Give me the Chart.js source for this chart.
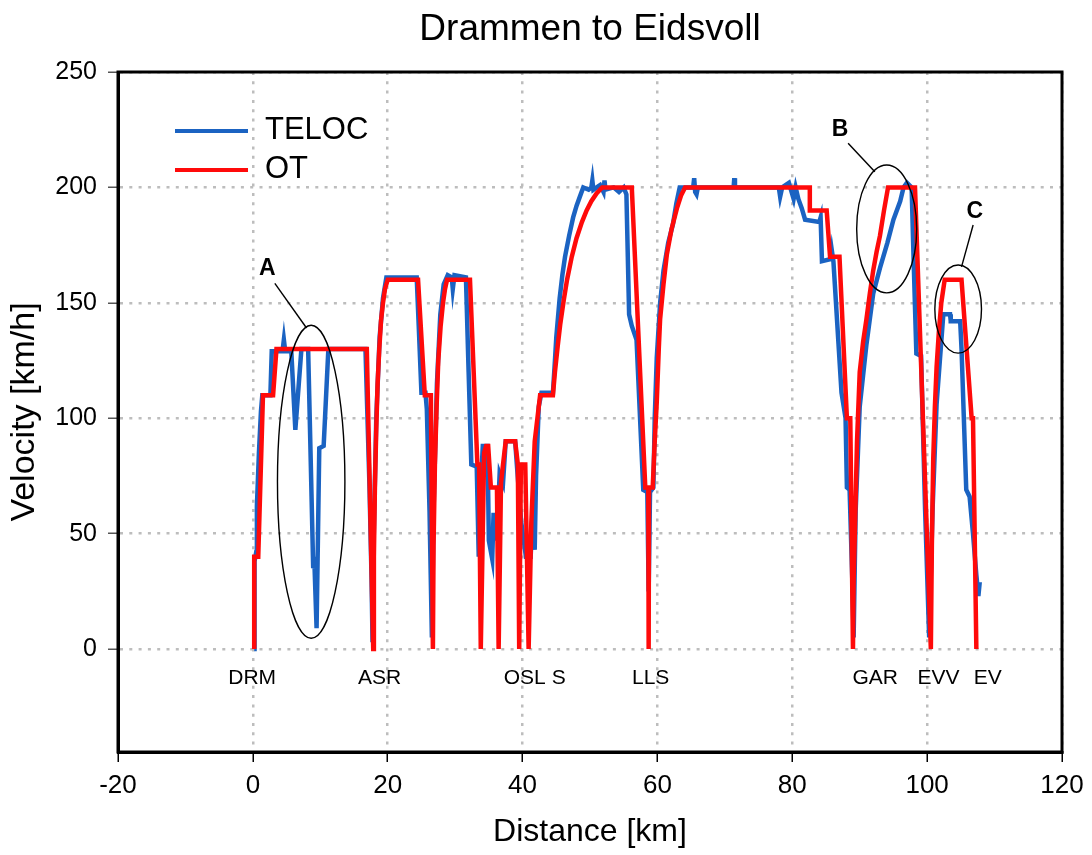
<!DOCTYPE html>
<html>
<head>
<meta charset="utf-8">
<script src="https://cdn.jsdelivr.net/npm/chart.js@4.4.1/dist/chart.umd.min.js"></script>
<style>
  html, body { margin: 0; padding: 0; background: #fff; }
</style>
</head>
<body>
<canvas id="speedChart" width="1092" height="855"></canvas>
<script>
// TELOC (measured) run: distance [km] and velocity [km/h]
const telocKm = [0.2, 0.25, 0.5, 0.6, 0.9, 1.2, 1.4, 2.6, 2.8, 4.4, 4.6, 4.8, 5.7, 6.3, 7.2, 8.2, 8.95, 9.1, 9.45, 9.85,
  10.5, 11.2, 16.7, 17.3, 17.6, 17.75, 17.9, 18.3, 18.8, 19.3, 19.8, 24.3, 24.6, 25.0, 25.6, 25.8, 26.2, 26.55, 26.8, 27.3,
  27.8, 28.3, 28.9, 29.5, 29.65, 29.9, 31.6, 32.0, 32.4, 33.2, 33.5, 33.8, 34.1, 34.8, 35.0, 35.5, 35.7, 36.0, 36.3, 36.6,
  37.1, 37.5, 38.9, 39.2, 39.8, 40.5, 41.2, 41.5, 41.8, 42.0, 42.4, 42.8, 44.5, 44.8, 45.0, 45.5, 45.9, 46.3, 46.9, 47.5,
  48.0, 48.5, 49.0, 49.8, 50.2, 50.35, 50.5, 51.5, 52.0, 52.15, 52.3, 53.5, 54.3, 55.0, 55.4, 55.8, 56.2, 56.9, 57.9, 58.5,
  58.7, 58.9, 59.4, 59.6, 59.9, 60.4, 60.9, 61.6, 62.3, 62.8, 63.3, 65.3, 65.45, 65.6, 65.8, 66.0, 71.3, 71.4, 71.5, 78.0,
  78.2, 78.5, 79.5, 80.2, 80.5, 80.9, 81.4, 81.9, 84.0, 84.2, 84.4, 85.8, 85.9, 86.1, 87.3, 87.9, 88.1, 88.5, 88.9, 89.1,
  89.4, 90.0, 91.0, 92.0, 93.0, 94.1, 95.0, 96.0, 96.5, 97.0, 97.7, 98.0, 98.4, 99.1, 99.7, 100.3, 100.8, 101.4, 102.4, 103.4,
  103.5, 104.9, 105.1, 105.8, 106.3, 106.8, 107.3, 107.6, 107.8];
const telocKmh = [0, 38, 42, 62, 85, 103, 110, 110, 129, 129, 134, 129, 129, 95, 130, 130, 35, 40, 9, 87,
  88, 130, 130, 70, 31, 3, 45, 100, 135, 152, 161, 161, 140, 111, 111, 104, 60, 5, 60, 115,
  145, 158, 162, 161, 156, 162, 161, 120, 80, 79, 40, 70, 88, 88, 47, 39, 59, 47, 55, 76,
  72, 90, 90, 78, 55, 40, 40, 60, 43, 75, 105, 111, 111, 125, 135, 152, 162, 170, 179, 187,
  192, 196, 200, 199, 200, 203, 199, 201, 198, 203, 199, 200, 198, 200, 197, 145, 140, 134, 69, 68,
  25, 68, 70, 100, 126, 150, 164, 176, 184, 193, 200, 200, 204, 198, 197, 200, 200, 204, 200, 200,
  196, 200, 202, 195, 200, 195, 191, 186, 185, 187, 168, 169, 172, 168, 111, 100, 70, 69, 30, 5,
  60, 105, 132, 154, 165, 176, 186, 194, 200, 202, 200, 168, 128, 127, 60, 5, 60, 106, 145, 145,
  142, 142, 130, 69, 66, 50, 32, 23, 29];

// OT (optimal timetable) profile
const otKm = [0.2, 0.2, 0.8, 1.5, 3.0, 3.5, 16.9, 17.85, 17.95, 18.1, 18.3, 18.5, 18.75, 19.0, 19.3, 19.6, 20.0, 24.5, 25.5, 26.4,
  26.7, 26.8, 27.0, 27.25, 27.5, 27.85, 28.2, 28.5, 28.8, 32.2, 33.3, 33.55, 33.8, 34.3, 34.6, 34.9, 35.3, 36.2, 36.45, 36.8,
  37.1, 37.5, 38.9, 39.3, 39.5, 39.75, 40.4, 40.9, 41.3, 41.8, 42.6, 44.5, 44.8, 45.2, 45.6, 46.1, 46.6, 47.3, 48.0, 48.8,
  49.5, 50.2, 51.0, 51.8, 56.2, 58.2, 58.65, 58.7, 58.75, 59.3, 59.6, 59.9, 60.2, 60.4, 60.9, 61.4, 62.1, 62.9, 63.5, 64.1,
  82.6, 82.6, 85.1, 85.6, 87.0, 88.1, 88.6, 89.0, 89.1, 89.3, 89.6, 90.0, 90.5, 91.0, 91.5, 92.0, 92.5, 93.0, 93.6, 94.2,
  98.2, 100.55, 100.7, 100.9, 101.15, 101.4, 101.75, 102.1, 102.6, 105.1, 106.6, 106.8, 107.3];
const otKmh = [0, 40, 40, 110, 110, 130, 130, 0, 40, 70, 95, 115, 130, 142, 150, 156, 160, 160, 110, 110,
  0, 45, 80, 105, 125, 140, 150, 156, 160, 160, 80, 80, 0, 85, 88, 88, 70, 70, 0, 72,
  80, 90, 90, 80, 0, 80, 80, 0, 55, 90, 110, 110, 120, 131, 141, 151, 160, 170, 178, 185,
  190, 194, 197.5, 200, 200, 70, 70, 0, 70, 70, 90, 107, 130, 143, 158, 171, 182, 191, 196.5, 200,
  200, 190, 190, 170, 170, 100, 100, 0, 30, 53, 90, 120, 133, 143, 154, 164, 172, 179, 190, 200,
  200, 0, 45, 82, 105, 122, 138, 150, 160, 160, 100, 100, 0];

// station names along the line, placed just under the zero line
const stationNames = ['DRM', 'ASR', 'OSL S', 'LLS', 'GAR', 'EVV', 'EV'];
const stationKm = [-0.1, 18.8, 41.8, 59.0, 92.3, 101.7, 109.0];
const stationLabelKmh = -12.5;

// circled deviations: label, label position, leader line, ellipse centre and radii (data units)
const marks = [
  { label: 'A', lx: 2.15, ly: 165, from: [3.26, 158.4], to: [7.96, 139.1], cx: 8.65, cy: 72.5, rx: 5.0, ry: 67.8 },
  { label: 'B', lx: 87.1, ly: 225, from: [88.28, 219.1], to: [92.24, 206.8], cx: 94.0, cy: 182, rx: 4.45, ry: 27.7 },
  { label: 'C', lx: 107.05, ly: 189.6, from: [106.82, 183.7], to: [105.1, 165.6], cx: 104.6, cy: 147.3, rx: 3.46, ry: 19.1 }
];

const FONT = "'Liberation Sans', Arial, sans-serif";
const BLUE = '#1b63c2';
const RED = '#ff0a0a';

function toPoints(xs, ys) {
  return xs.map((x, i) => ({ x: x, y: ys[i] }));
}

const overlayPlugin = {
  id: 'overlayPlugin',
  afterDatasetsDraw: (chart) => {
    const { ctx, chartArea: { left, top, right, bottom }, scales: { x, y } } = chart;
    ctx.save();

    // station names
    ctx.fillStyle = '#000';
    ctx.font = '21px ' + FONT;
    ctx.textAlign = 'center';
    ctx.textBaseline = 'middle';
    stationNames.forEach((name, i) => {
      ctx.fillText(name, x.getPixelForValue(stationKm[i]), y.getPixelForValue(stationLabelKmh));
    });

    // ellipses, leader lines, letters
    ctx.strokeStyle = '#000';
    ctx.lineWidth = 1.4;
    marks.forEach((m) => {
      const cx = x.getPixelForValue(m.cx);
      const cy = y.getPixelForValue(m.cy);
      const rx = Math.abs(x.getPixelForValue(m.cx + m.rx) - cx);
      const ry = Math.abs(y.getPixelForValue(m.cy + m.ry) - cy);
      ctx.beginPath();
      ctx.ellipse(cx, cy, rx, ry, 0, 0, Math.PI * 2);
      ctx.stroke();

      ctx.beginPath();
      ctx.moveTo(x.getPixelForValue(m.from[0]), y.getPixelForValue(m.from[1]));
      ctx.lineTo(x.getPixelForValue(m.to[0]), y.getPixelForValue(m.to[1]));
      ctx.stroke();

      ctx.font = 'bold 23px ' + FONT;
      ctx.fillText(m.label, x.getPixelForValue(m.lx), y.getPixelForValue(m.ly));
    });

    // legend inside the plot
    const items = [['TELOC', BLUE], ['OT', RED]];
    items.forEach((it, i) => {
      const ly = top + 59 + i * 39;
      ctx.strokeStyle = it[1];
      ctx.lineWidth = 4;
      ctx.beginPath();
      ctx.moveTo(left + 57, ly);
      ctx.lineTo(left + 130, ly);
      ctx.stroke();
      ctx.fillStyle = '#000';
      ctx.font = '31px ' + FONT;
      ctx.textAlign = 'left';
      ctx.fillText(it[0], left + 147, ly - 1);
    });

    // black frame round the plot
    ctx.strokeStyle = '#000';
    ctx.lineWidth = 3;
    ctx.strokeRect(left, top, right - left, bottom - top);
    ctx.restore();
  }
};

const chartCtx = document.getElementById('speedChart').getContext('2d');

const speedChart = new Chart(chartCtx, {
  type: 'scatter',
  data: {
    datasets: [
      {
        label: 'TELOC',
        data: toPoints(telocKm, telocKmh),
        showLine: true,
        borderColor: BLUE,
        backgroundColor: BLUE,
        borderWidth: 4.5,
        pointRadius: 0,
        tension: 0,
        order: 2
      },
      {
        label: 'OT',
        data: toPoints(otKm, otKmh),
        showLine: true,
        borderColor: RED,
        backgroundColor: RED,
        borderWidth: 4.5,
        pointRadius: 0,
        tension: 0,
        order: 1
      }
    ]
  },
  options: {
    responsive: false,
    animation: false,
    layout: { padding: { left: 0, right: 30, top: 0, bottom: 0 } },
    plugins: {
      legend: { display: false },
      tooltip: { enabled: false },
      title: {
        display: true,
        text: 'Drammen to Eidsvoll',
        fullSize: false,
        color: '#000',
        font: { family: FONT, size: 37, weight: 'normal' },
        padding: { top: 8, bottom: 19.6 }
      }
    },
    scales: {
      x: {
        type: 'linear',
        min: -20,
        max: 120,
        afterFit: (scale) => { scale.height = 103; },
        ticks: {
          stepSize: 20,
          color: '#000',
          font: { family: FONT, size: 26 },
          padding: 8,
          maxRotation: 0
        },
        grid: {
          color: '#bdbdbd',
          lineWidth: 2.5,
          tickColor: '#000',
          tickLength: 10,
          tickWidth: 1.5
        },
        border: { display: true, color: '#000', width: 3, dash: [3, 6.3] },
        title: {
          display: true,
          text: 'Distance [km]',
          color: '#000',
          font: { family: FONT, size: 32 },
          padding: { top: 4, bottom: 4 }
        }
      },
      y: {
        type: 'linear',
        min: -44.6,
        max: 250,
        afterFit: (scale) => { scale.width = 118; },
        afterBuildTicks: (axis) => {
          axis.ticks = axis.ticks.filter((t) => t.value >= 0);
        },
        ticks: {
          stepSize: 50,
          color: '#000',
          font: { family: FONT, size: 25 },
          padding: 11
        },
        grid: {
          color: '#bdbdbd',
          lineWidth: 2.5,
          tickColor: '#555',
          tickLength: 10,
          tickWidth: 1.5
        },
        border: { display: true, color: '#000', width: 3, dash: [3, 6.3] },
        title: {
          display: true,
          text: 'Velocity [km/h]',
          color: '#000',
          font: { family: FONT, size: 34 },
          padding: { top: 4, bottom: 4 }
        }
      }
    }
  },
  plugins: [overlayPlugin]
});
</script>
</body>
</html>
